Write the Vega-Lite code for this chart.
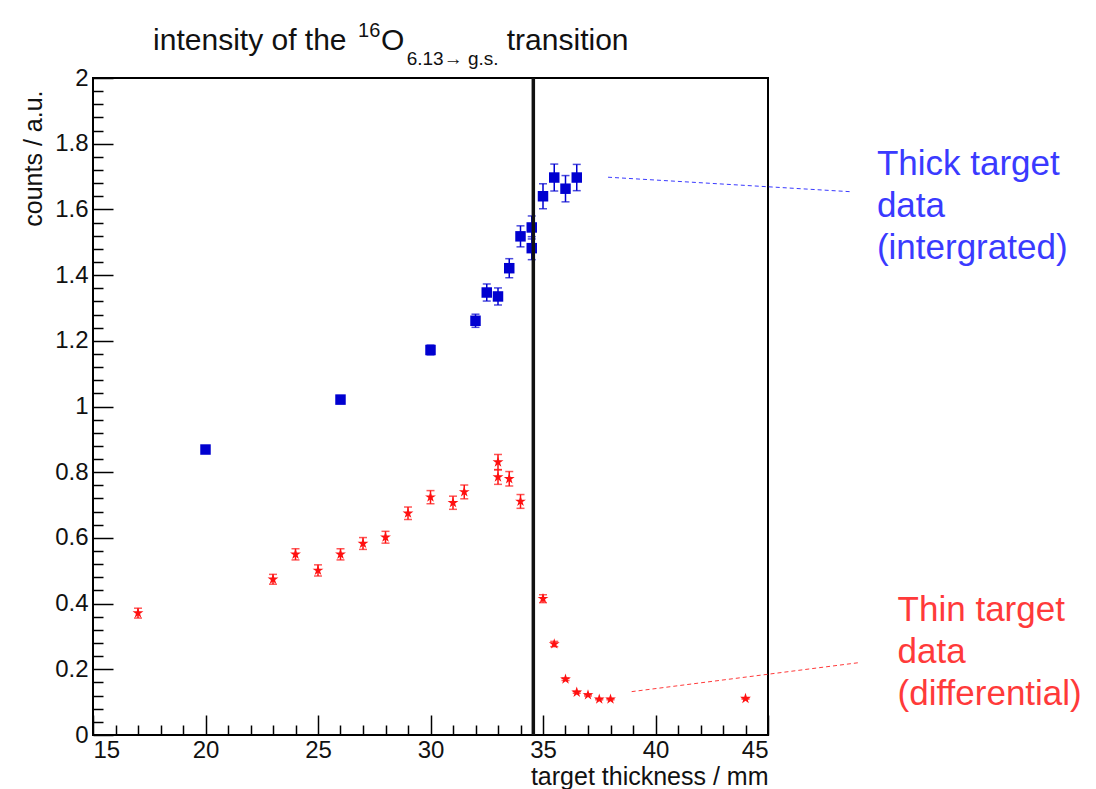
{
  "$schema": "https://vega.github.io/schema/vega-lite/v6.json",
  "width": 675,
  "height": 657,
  "autosize": "none",
  "padding": {"left": 93, "top": 78, "right": 328, "bottom": 54},
  "background": "white",
  "config": {
    "view": {"stroke": "black", "strokeWidth": 2},
    "font": "Liberation Sans",
    "axis": {"grid": false, "domain": false, "tickColor": "black", "tickWidth": 1.5, "labelFont": "Liberation Sans", "titleFont": "Liberation Sans", "labelColor": "#111", "titleColor": "#111", "labelFontSize": 24, "titleFontSize": 25, "titleFontWeight": "normal"}
  },
  "datasets": {
    "pts": [
      {"series": "thick", "thickness": 20, "counts": 0.869, "err": 0.010},
      {"series": "thick", "thickness": 26, "counts": 1.021, "err": 0.012},
      {"series": "thick", "thickness": 30, "counts": 1.172, "err": 0.015},
      {"series": "thick", "thickness": 32, "counts": 1.261, "err": 0.020},
      {"series": "thick", "thickness": 32.5, "counts": 1.347, "err": 0.026},
      {"series": "thick", "thickness": 33, "counts": 1.335, "err": 0.026},
      {"series": "thick", "thickness": 33.5, "counts": 1.421, "err": 0.029},
      {"series": "thick", "thickness": 34, "counts": 1.518, "err": 0.032},
      {"series": "thick", "thickness": 34.5, "counts": 1.545, "err": 0.035},
      {"series": "thick", "thickness": 34.5, "counts": 1.482, "err": 0.035},
      {"series": "thick", "thickness": 35, "counts": 1.640, "err": 0.038},
      {"series": "thick", "thickness": 35.5, "counts": 1.697, "err": 0.041},
      {"series": "thick", "thickness": 36, "counts": 1.663, "err": 0.040},
      {"series": "thick", "thickness": 36.5, "counts": 1.697, "err": 0.040},
      {"series": "thin", "thickness": 17, "counts": 0.371, "err": 0.015},
      {"series": "thin", "thickness": 23, "counts": 0.474, "err": 0.015},
      {"series": "thin", "thickness": 24, "counts": 0.550, "err": 0.017},
      {"series": "thin", "thickness": 25, "counts": 0.501, "err": 0.017},
      {"series": "thin", "thickness": 26, "counts": 0.550, "err": 0.017},
      {"series": "thin", "thickness": 27, "counts": 0.583, "err": 0.018},
      {"series": "thin", "thickness": 28, "counts": 0.602, "err": 0.018},
      {"series": "thin", "thickness": 29, "counts": 0.675, "err": 0.019},
      {"series": "thin", "thickness": 30, "counts": 0.724, "err": 0.020},
      {"series": "thin", "thickness": 31, "counts": 0.707, "err": 0.020},
      {"series": "thin", "thickness": 31.5, "counts": 0.740, "err": 0.021},
      {"series": "thin", "thickness": 33, "counts": 0.831, "err": 0.023},
      {"series": "thin", "thickness": 33, "counts": 0.785, "err": 0.022},
      {"series": "thin", "thickness": 33.5, "counts": 0.780, "err": 0.022},
      {"series": "thin", "thickness": 34, "counts": 0.711, "err": 0.021},
      {"series": "thin", "thickness": 35, "counts": 0.415, "err": 0.012},
      {"series": "thin", "thickness": 35.5, "counts": 0.277, "err": 0.008},
      {"series": "thin", "thickness": 36, "counts": 0.170, "err": 0.004},
      {"series": "thin", "thickness": 36.5, "counts": 0.130, "err": 0.003},
      {"series": "thin", "thickness": 37, "counts": 0.122, "err": 0.003},
      {"series": "thin", "thickness": 37.5, "counts": 0.109, "err": 0.002},
      {"series": "thin", "thickness": 38, "counts": 0.109, "err": 0.002},
      {"series": "thin", "thickness": 44, "counts": 0.111, "err": 0.002}
    ],
    "one": [{}]
  },
  "resolve": {"axis": {"x": "independent", "y": "independent"}},
  "layer": [
    {
      "data": {"name": "pts"},
      "mark": {"type": "errorbar", "ticks": {"size": 8, "thickness": 1.5}, "thickness": 1.5},
      "encoding": {
        "x": {"field": "thickness", "type": "quantitative", "scale": {"domain": [15, 45], "nice": false, "zero": false},
          "axis": {"orient": "bottom", "values": [15, 20, 25, 30, 35, 40, 45], "offset": -20, "tickSize": 20, "labelPadding": 3, "title": "target thickness / mm", "titleAnchor": "end", "titleAlign": "right", "titleBaseline": "alphabetic", "titleX": 675, "titleY": 69}},
        "y": {"field": "counts", "type": "quantitative", "scale": {"domain": [0, 2], "nice": false, "zero": false},
          "axis": {"orient": "left", "values": [0, 0.2, 0.4, 0.6, 0.8, 1, 1.2, 1.4, 1.6, 1.8, 2], "format": "~g", "offset": -20, "tickSize": 20, "labelPadding": 5, "title": "counts / a.u.", "titleAngle": -90, "titleAlign": "right", "titleBaseline": "alphabetic", "titleX": -72, "titleY": 12, "titleAnchor": "end"}},
        "yError": {"field": "err"},
        "color": {"field": "series", "type": "nominal", "scale": {"domain": ["thick", "thin"], "range": ["#0000d0", "#ff1010"]}, "legend": null}
      }
    },
    {
      "data": {"name": "pts"},
      "mark": {"type": "point", "filled": true, "opacity": 1, "strokeWidth": 0},
      "encoding": {
        "x": {"field": "thickness", "type": "quantitative", "scale": {"domain": [15, 45], "nice": false, "zero": false},
          "axis": {"orient": "bottom", "values": [16,17,18,19,21,22,23,24,26,27,28,29,31,32,33,34,36,37,38,39,41,42,43,44], "offset": -10, "tickSize": 10, "labels": false, "title": null}},
        "y": {"field": "counts", "type": "quantitative", "scale": {"domain": [0, 2], "nice": false, "zero": false},
          "axis": {"orient": "left", "values": [0.04,0.08,0.12,0.16,0.24,0.28,0.32,0.36,0.44,0.48,0.52,0.56,0.64,0.68,0.72,0.76,0.84,0.88,0.92,0.96,1.04,1.08,1.12,1.16,1.24,1.28,1.32,1.36,1.44,1.48,1.52,1.56,1.64,1.68,1.72,1.76,1.84,1.88,1.92,1.96], "offset": -10, "tickSize": 10, "labels": false, "title": null}},
        "color": {"field": "series", "type": "nominal", "scale": {"domain": ["thick", "thin"], "range": ["#0000d0", "#ff1010"]}, "legend": null},
        "shape": {"field": "series", "type": "nominal", "scale": {"domain": ["thick", "thin"], "range": ["square", "M0,-1L0.2245,-0.309L0.951,-0.309L0.3633,0.118L0.5878,0.809L0,0.382L-0.5878,0.809L-0.3633,0.118L-0.951,-0.309L-0.2245,-0.309Z"]}, "legend": null},
        "size": {"field": "series", "type": "nominal", "scale": {"domain": ["thick", "thin"], "range": [110, 130]}, "legend": null}
      }
    },
    {
      "data": {"name": "one"},
      "mark": {"type": "rule", "color": "#111", "strokeWidth": 3.5},
      "encoding": {"x": {"datum": 34.57, "type": "quantitative", "axis": null}}
    },
    {
      "data": {"name": "one"},
      "mark": {"type": "rule", "color": "#3a3aff", "strokeWidth": 1, "strokeDash": [4, 3], "clip": false},
      "encoding": {
        "x": {"datum": 37.89, "type": "quantitative", "axis": null}, "y": {"datum": 1.698, "type": "quantitative", "axis": null},
        "x2": {"datum": 48.64}, "y2": {"datum": 1.654}
      }
    },
    {
      "data": {"name": "one"},
      "mark": {"type": "rule", "color": "#ff3a3a", "strokeWidth": 1, "strokeDash": [4, 3], "clip": false},
      "encoding": {
        "x": {"datum": 38.94, "type": "quantitative", "axis": null}, "y": {"datum": 0.132, "type": "quantitative", "axis": null},
        "x2": {"datum": 49.01}, "y2": {"datum": 0.220}
      }
    },
    {
      "data": {"name": "one"},
      "mark": {"type": "text", "text": ["Thick target", "data", "(intergrated)"], "font": "Liberation Sans", "fontSize": 35, "lineHeight": 42, "align": "left", "baseline": "alphabetic", "color": "#3a3aff", "clip": false},
      "encoding": {"x": {"datum": 49.84, "type": "quantitative", "axis": null}, "y": {"datum": 1.705, "type": "quantitative", "axis": null}}
    },
    {
      "data": {"name": "one"},
      "mark": {"type": "text", "text": ["Thin target", "data", "(differential)"], "font": "Liberation Sans", "fontSize": 35, "lineHeight": 42, "align": "left", "baseline": "alphabetic", "color": "#ff3a3a", "clip": false},
      "encoding": {"x": {"datum": 50.76, "type": "quantitative", "axis": null}, "y": {"datum": 0.348, "type": "quantitative", "axis": null}}
    },
    {
      "data": {"name": "one"},
      "mark": {"type": "text", "text": "intensity of the", "font": "Liberation Sans", "fontSize": 30, "align": "left", "baseline": "alphabetic", "color": "#111", "clip": false},
      "encoding": {"x": {"datum": 17.67, "type": "quantitative", "axis": null}, "y": {"datum": 2.085, "type": "quantitative", "axis": null}}
    },
    {
      "data": {"name": "one"},
      "mark": {"type": "text", "text": "16", "font": "Liberation Sans", "fontSize": 20, "align": "left", "baseline": "alphabetic", "color": "#111", "clip": false},
      "encoding": {"x": {"datum": 26.78, "type": "quantitative", "axis": null}, "y": {"datum": 2.125, "type": "quantitative", "axis": null}}
    },
    {
      "data": {"name": "one"},
      "mark": {"type": "text", "text": "O", "font": "Liberation Sans", "fontSize": 30, "align": "left", "baseline": "alphabetic", "color": "#111", "clip": false},
      "encoding": {"x": {"datum": 27.8, "type": "quantitative", "axis": null}, "y": {"datum": 2.085, "type": "quantitative", "axis": null}}
    },
    {
      "data": {"name": "one"},
      "mark": {"type": "text", "text": "6.13→ g.s.", "font": "Liberation Sans", "fontSize": 19, "align": "left", "baseline": "alphabetic", "color": "#111", "clip": false},
      "encoding": {"x": {"datum": 28.94, "type": "quantitative", "axis": null}, "y": {"datum": 2.04, "type": "quantitative", "axis": null}}
    },
    {
      "data": {"name": "one"},
      "mark": {"type": "text", "text": "transition", "font": "Liberation Sans", "fontSize": 30, "align": "left", "baseline": "alphabetic", "color": "#111", "clip": false},
      "encoding": {"x": {"datum": 33.39, "type": "quantitative", "axis": null}, "y": {"datum": 2.085, "type": "quantitative", "axis": null}}
    }
  ]
}
